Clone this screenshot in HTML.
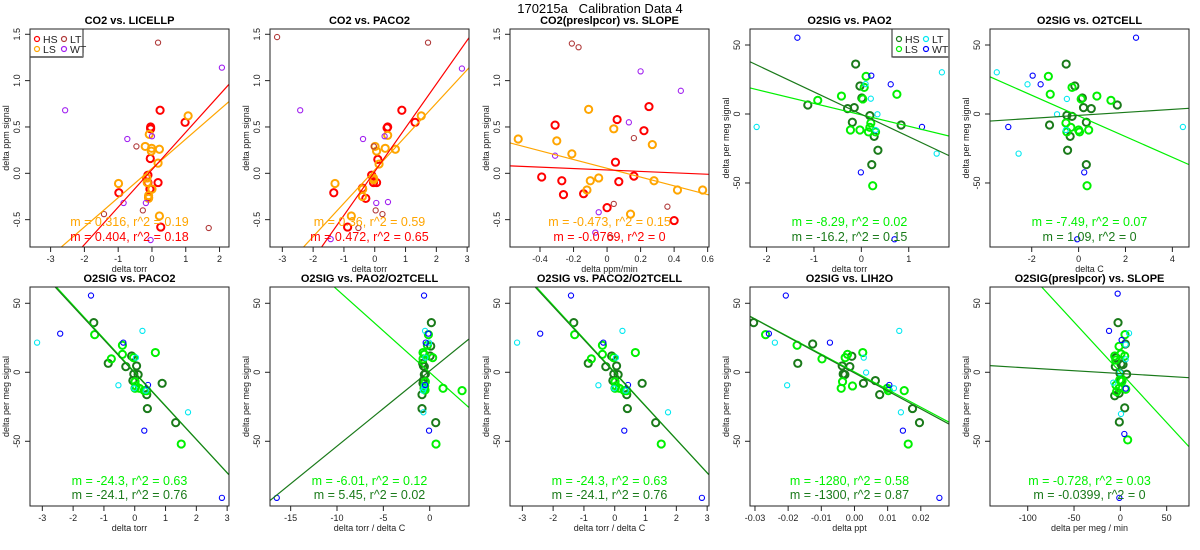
<!DOCTYPE html>
<html><head><meta charset="utf-8"><style>
html,body{margin:0;padding:0;background:#fff;}
svg{display:block;font-family:"Liberation Sans",Arial,sans-serif;}
</style></head><body>
<svg id="chart" width="1200" height="550" viewBox="0 0 1200 550">
<text x="600" y="13" text-anchor="middle" font-size="13">170215a&#160;&#160;&#160;Calibration Data 4</text>
</svg>
<script>
// ---- data arrays (data coordinates) ----
const p1_hs=[[0.24,0.68],[-0.04,0.50],[-0.04,0.48],[0.98,0.55],[-0.05,0.16],[-0.12,-0.02],[-0.16,-0.05],[-0.12,-0.10],[0.18,-0.10],[-0.06,-0.17],[-0.98,-0.21],[-0.10,-0.26],[0.26,-0.58]];
const p1_ls=[[1.07,0.62],[-0.08,0.42],[-0.2,0.29],[-0.01,0.27],[-0.02,0.24],[0.22,0.26],[0.18,0.11],[-0.15,-0.05],[-0.14,-0.10],[-0.99,-0.11],[0.0,-0.17],[-0.1,-0.24],[-0.1,-0.27],[0.22,-0.46]];
const p1_lt=[[0.18,1.41],[-0.46,0.29],[-1.42,-0.44],[-0.27,-0.40],[1.68,-0.59]];
const p1_wt=[[2.07,1.14],[-2.57,0.68],[-0.73,0.37],[0.0,0.40],[-0.84,-0.32],[-0.18,-0.32],[-0.04,-0.72]];
const p2_hs=[[0.88,0.68],[0.42,0.50],[0.40,0.49],[1.31,0.55],[0.10,0.15],[-0.1,-0.02],[-0.04,-0.10],[0.06,-0.10],[-0.4,-0.16],[-1.33,-0.21],[-0.29,-0.27],[-0.88,-0.58]];
const p2_ls=[[1.51,0.62],[0.42,0.41],[0.01,0.29],[0.34,0.27],[0.06,0.24],[0.67,0.26],[0.14,0.10],[-0.04,-0.05],[-1.29,-0.11],[-0.39,-0.17],[-0.4,-0.25],[-0.76,-0.46],[-0.04,-0.07]];
const p2_lt=[[-3.17,1.47],[1.73,1.41],[-0.03,0.29],[0.03,-0.40],[0.25,-0.44],[-0.53,-0.59]];
const p2_wt=[[2.83,1.13],[-2.42,0.68],[-0.38,0.37],[0.32,0.40],[0.43,-0.31],[0.05,-0.32],[-1.43,-0.71]];
const p3_hs=[[-0.31,0.52],[0.06,0.58],[0.25,0.72],[0.22,0.46],[0.05,0.12],[-0.39,-0.04],[-0.27,-0.08],[0.16,-0.03],[0.07,-0.09],[-0.26,-0.23],[-0.14,-0.22],[0.0,-0.37],[0.40,-0.51]];
const p3_ls=[[-0.53,0.37],[-0.30,0.35],[-0.11,0.69],[0.04,0.48],[-0.21,0.21],[0.27,0.31],[-0.1,-0.08],[-0.05,-0.05],[-0.12,-0.18],[0.28,-0.08],[0.42,-0.18],[0.57,-0.18],[0.14,-0.44]];
const p3_lt=[[-0.21,1.40],[-0.17,1.36],[0.16,0.38],[0.04,-0.33],[0.36,-0.36],[0.02,-0.69]];
const p3_wt=[[0.2,1.10],[0.44,0.89],[0.13,0.55],[-0.31,0.19],[-0.05,-0.42],[-0.07,-0.64]];
const p4_hs=[[-0.12,36.2],[-0.03,20.3],[0.01,11.6],[-1.13,6.5],[-0.29,3.9],[-0.15,4.6],[0.18,-1.2],[-0.19,-6],[0.84,-8],[0.27,-16.2],[0.35,-26.3],[0.22,-36.7]];
const p4_ls=[[0.1,27.3],[0.06,19.3],[0.03,10.9],[-0.42,13],[-0.92,9.9],[0.75,14.3],[0.2,-6.5],[0.18,-9.7],[0.15,-13],[0.3,-13],[-0.03,-11.6],[-0.23,-11.6],[0.24,-52]];
const p4_lt=[[0.09,21.7],[1.7,30.2],[-2.21,-9.4],[0.2,11.1],[0.34,-0.2],[1.59,-28.7],[0.3,-11.6]];
const p4_wt=[[-1.35,55.3],[0.21,27.8],[0.62,21.5],[1.28,-9.4],[-0.01,-42.3],[0.7,-90.8]];
const p5_hs=[[-0.53,36.2],[-0.16,20.3],[0.16,11.6],[1.65,6.5],[0.21,4.6],[0.54,3.9],[-0.5,-1],[-0.28,-1.7],[0.33,-6],[-1.24,-8],[-0.36,-16.2],[-0.47,-26.3],[0.33,-36.7]];
const p5_ls=[[-1.29,27.3],[-0.28,19.3],[0.11,10.9],[-1.21,14.3],[0.78,13],[1.38,9.9],[-0.54,-6.5],[-0.33,-9.7],[0,-11.6],[0.43,-11.6],[0.04,-13],[-0.5,-13],[0.36,-52]];
const p5_lt=[[-3.49,30.2],[-2.18,21.5],[-0.5,10.9],[-0.92,-0.2],[-0.54,-11.6],[-2.56,-28.7],[4.45,-9.4]];
const p5_wt=[[2.45,55.3],[-1.96,27.8],[-1.62,21.5],[-3.0,-9.4],[0.24,-42.3],[-0.06,-90.8]];
const p6_hs=[[-1.33,36],[-0.1,11.8],[-0.86,6.5],[-0.29,4.1],[0.06,4.6],[0.11,-1.7],[-0.06,-6],[0.89,-8],[0.39,-16.2],[0.41,-26.3],[1.33,-36.5],[-0.03,-1.2]];
const p6_ls=[[-1.3,27.3],[-0.4,19.6],[0.67,14.3],[-0.4,13],[-0.04,10.6],[-0.76,9.7],[0.01,-6.8],[0.04,-9.9],[0.01,-11.6],[0.15,-11.6],[0.31,-13.3],[0.39,-13.3],[1.51,-52]];
const p6_lt=[[-3.17,21.5],[0.25,30],[0.04,10.6],[-0.53,-9.4],[-0.02,-11.6],[1.73,-29],[0.36,-13.3]];
const p6_wt=[[-1.42,55.6],[-2.42,28],[-0.37,21.5],[0.43,-9.2],[0.31,-42.3],[2.83,-91]];
const p7_hs=[[0.18,36],[0.04,11.8],[-0.76,6.5],[-0.58,4.1],[-0.68,4.6],[-0.58,-1.7],[-0.68,-6],[-0.72,-8],[-0.83,-16.2],[-0.83,-26.3],[0.65,-36.5],[-0.47,-1.2],[0.11,19]];
const p7_ls=[[-0.14,27.3],[-0.25,19.6],[-0.72,14.3],[0.32,10.6],[-0.58,13],[-0.72,9.7],[-0.47,-6.8],[-0.54,-9.9],[-0.61,-11.6],[1.44,-11.6],[3.49,-13.3],[-0.5,-12.8],[0.68,-52]];
const p7_lt=[[-0.5,30],[-0.07,21.5],[-0.47,10.6],[-0.58,-9.4],[-0.61,-11.6],[-0.68,-29],[-0.72,-13.3]];
const p7_wt=[[-0.61,55.6],[-0.14,28],[-0.43,21.5],[-0.5,-9.2],[-0.07,-42.3],[-16.5,-91]];
const p9_hs=[[-0.0304,36],[-0.0126,20.5],[-0.0171,6.5],[-0.0008,11.6],[-0.0014,4.1],[-0.0037,4.6],[-0.0029,-1.7],[-0.0034,-1.2],[0.0063,-6],[0.0027,-8],[0.0076,-16.2],[0.0175,-26.3],[0.0196,-36.5]];
const p9_ls=[[-0.0268,27.3],[-0.0173,19.6],[0.0025,14.3],[-0.0021,13],[-0.0028,10.6],[-0.0098,9.7],[-0.0036,-6.8],[-0.0006,-9.9],[-0.004,-11.6],[0.0099,-11.6],[0.0102,-13.3],[0.015,-13.3],[0.0162,-52]];
const p9_lt=[[-0.024,21.5],[0.0135,30],[0.0028,10.6],[0.0035,-0.2],[-0.0203,-9.4],[0.0119,-11.6],[0.014,-29]];
const p9_wt=[[-0.0207,55.6],[-0.0258,28],[-0.0074,21.5],[0.0105,-9.2],[0.0146,-42.3],[0.0256,-91]];
const p10_hs=[[-2.5,36],[5.4,20.5],[-5.4,4.1],[2.9,5.6],[0.7,6],[-4.7,10.6],[-0.4,-0.7],[6.8,-1.4],[0.4,-5.6],[-1.4,-15.2],[4.7,-25.8],[-1.1,-36],[-6.1,-17]];
const p10_ls=[[5,27.3],[-1.4,18.8],[4.7,11.8],[0.7,13.3],[-6.1,11.8],[-5,8.9],[-0.7,-5.6],[1.8,-6.5],[-4.7,-9.4],[-1.4,-11.6],[5.8,-12.3],[-4,-14],[7.9,-49]];
const p10_lt=[[9.4,28.3],[5.8,20],[5.8,9.4],[-7.6,-7.5],[0.7,-30.2],[-0.4,-0.2]];
const p10_wt=[[-2.9,57],[-12.2,30],[1.4,23.4],[5.8,-11.8],[4.3,-44.7],[-1.1,-91]];
// fit lines [slope, intercept] : first = LS (top text), second = HS
const fits=[[[0.316,0.053],[0.404,0.039]],[[0.36,0.037],[0.472,0.019]],[[-0.473,0.054],[-0.0769,0.036]],
[[-8.29,-0.6],[-16.2,-0.2]],[[-7.49,-1.4],[1.09,-1.0]],
[[-24.3,0],[-24.1,-0.5]],[[-6.01,-0.1],[5.45,1.0]],[[-24.3,0],[-24.1,-0.5]],[[-1280,0.3],[-1300,-0.5]],[[-0.728,0],[-0.0405,-0.9]]];
const statText=[["m = 0.316, r^2 = 0.19","m = 0.404, r^2 = 0.18"],["m = 0.36, r^2 = 0.59","m = 0.472, r^2 = 0.65"],["m = -0.473, r^2 = 0.15","m = -0.0769, r^2 = 0"],
["m = -8.29, r^2 = 0.02","m = -16.2, r^2 = 0.15"],["m = -7.49, r^2 = 0.07","m = 1.09, r^2 = 0"],
["m = -24.3, r^2 = 0.63","m = -24.1, r^2 = 0.76"],["m = -6.01, r^2 = 0.12","m = 5.45, r^2 = 0.02"],["m = -24.3, r^2 = 0.63","m = -24.1, r^2 = 0.76"],
["m = -1280, r^2 = 0.58","m = -1300, r^2 = 0.87"],["m = -0.728, r^2 = 0.03","m = -0.0399, r^2 = 0"]];
const titles=["CO2 vs. LICELLP","CO2 vs. PACO2","CO2(preslpcor) vs. SLOPE","O2SIG vs. PAO2","O2SIG vs. O2TCELL","O2SIG vs. PACO2","O2SIG vs. PAO2/O2TCELL","O2SIG vs. PACO2/O2TCELL","O2SIG vs. LIH2O","O2SIG(preslpcor) vs. SLOPE"];
const xlabels=["delta torr","delta torr","delta ppm/min","delta torr","delta C","delta torr","delta torr / delta C","delta torr / delta C","delta ppt","delta per meg / min"];
const xdomains=[[-3.61,2.28],[-3.4,3.06],[-0.579,0.608],[-2.35,1.85],[-3.78,4.71],[-3.4,3.06],[-17.23,4.24],[-3.4,3.06],[-0.0315,0.0285],[-140.7,74.1]];
const xticks=[[-3,-2,-1,0,1,2],[-3,-2,-1,0,1,2,3],[-0.4,-0.2,0,0.2,0.4,0.6],[-2,-1,0,1],[-2,0,2,4],[-3,-2,-1,0,1,2,3],[-15,-10,-5,0],[-3,-2,-1,0,1,2,3],[-0.03,-0.02,-0.01,0,0.01,0.02],[-100,-50,0,50]];
const xtickLabels=[null,null,null,null,null,null,null,null,["-0.03","-0.02","-0.01","0.00","0.01","0.02"],null];
const pointSets=[[p1_hs,p1_ls,p1_lt,p1_wt],[p2_hs,p2_ls,p2_lt,p2_wt],[p3_hs,p3_ls,p3_lt,p3_wt],[p4_hs,p4_ls,p4_lt,p4_wt],[p5_hs,p5_ls,p5_lt,p5_wt],
[p6_hs,p6_ls,p6_lt,p6_wt],[p7_hs,p7_ls,p7_lt,p7_wt],[p6_hs,p6_ls,p6_lt,p6_wt],[p9_hs,p9_ls,p9_lt,p9_wt],[p10_hs,p10_ls,p10_lt,p10_wt]];

const NS="http://www.w3.org/2000/svg";
const svg=document.getElementById('chart');
function mk(tag,attrs,parent){const e=document.createElementNS(NS,tag);for(const k in attrs)e.setAttribute(k,attrs[k]);(parent||svg).appendChild(e);return e;}
const co2Col=["#ff0000","#ffa500","#b03a3a","#a020f0"];
const o2Col=["#1a7a1a","#00f000","#00e8f0","#0000ff"];
const groupNames=["HS","LS","LT","WT"];
for(let i=0;i<10;i++){
  const col=i%5,row=Math.floor(i/5);
  const L=30+240*col,R=229+240*col,T=row?287:29,B=row?506:247;
  const isCO2=(row===0&&col<3);
  const yd=isCO2?[-0.795,1.557]:(row?[-96.9,61.8]:[-96.4,61.6]);
  const yt=isCO2?[-0.5,0,0.5,1,1.5]:[-50,0,50];
  const ytl=isCO2?["-0.5","0.0","0.5","1.0","1.5"]:["-50","0","50"];
  const xd=xdomains[i];
  const sx=v=>L+(v-xd[0])/(xd[1]-xd[0])*(R-L);
  const sy=v=>B-(v-yd[0])/(yd[1]-yd[0])*(B-T);
  const cols=isCO2?co2Col:o2Col;
  const g=mk('g',{});
  
  
  const cp=mk('clipPath',{id:'cp'+i},g);mk('rect',{x:L,y:T,width:R-L,height:B-T},cp);
  const t=mk('text',{x:(L+R)/2,y:T-5,'text-anchor':'middle','font-size':'11','font-weight':'bold'},g);t.textContent=titles[i];
  
  
  const pg=mk('g',{'clip-path':'url(#cp'+i+')'},g);
  pointSets[i].forEach((set,gi)=>{
    set.forEach(p=>{
      const c=mk('circle',{cx:sx(p[0]),cy:sy(p[1]),r:gi<2?3.6:2.6,fill:'none',stroke:cols[gi],'stroke-width':gi<2?2:1.1},pg);
      
      
    });
  });
  fits[i].forEach((f,fi)=>{
    const ln=mk('line',{x1:sx(xd[0]),y1:sy(f[0]*xd[0]+f[1]),x2:sx(xd[1]),y2:sy(f[0]*xd[1]+f[1]),stroke:fi===0?cols[1]:cols[0],'stroke-width':1.2},pg);
    
    
  });
  statText[i].forEach((s,si)=>{
    const tx=mk('text',{x:(L+R)/2,y:row?(si?499:485):(si?241:226),'text-anchor':'middle','font-size':'12.5',fill:si===0?cols[1]:cols[0]},g);tx.textContent=s;
    
    
  });
  const bx=mk('rect',{x:L,y:T,width:R-L,height:B-T,fill:'none',stroke:'#222','stroke-width':1},g);
  
  
  xticks[i].forEach((v,k)=>{
    mk('line',{x1:sx(v),x2:sx(v),y1:B,y2:B+5,stroke:'#222'},g);
    const tl=mk('text',{x:sx(v),y:B+15,'text-anchor':'middle','font-size':'9',fill:'#222'},g);
    tl.textContent=xtickLabels[i]?xtickLabels[i][k]:String(v);
    
    
  });
  const xl=mk('text',{x:(L+R)/2,y:B+25,'text-anchor':'middle','font-size':'9',fill:'#222'},g);xl.textContent=xlabels[i];
  
  
  yt.forEach((v,k)=>{
    mk('line',{x1:L-5,x2:L,y1:sy(v),y2:sy(v),stroke:'#222'},g);
    const tl=mk('text',{x:L-10,y:sy(v),'text-anchor':'middle','font-size':'9',fill:'#222',transform:`rotate(-90 ${L-10} ${sy(v)})`},g);
    tl.textContent=ytl[k];
    
    
  });
  const yx=L-21,yy=(T+B)/2;
  const yl=mk('text',{x:yx,y:yy,'text-anchor':'middle','font-size':'9',fill:'#222',transform:`rotate(-90 ${yx} ${yy})`},g);
  yl.textContent=isCO2?"delta ppm signal":"delta per meg signal";
  
  
  if(i===0||i===3){
    const lx=i===0?L:R-57,lw=i===0?53:57;
    const lg=mk('g',{},g);
    
    
    mk('rect',{x:lx,y:T,width:lw,height:28,fill:'#fff',stroke:'#222'},lg);
    mk('line',{x1:lx+1,x2:lx+lw,y1:T+28,y2:T+28,stroke:'#777','stroke-width':2},lg);
    groupNames.forEach((n,gi)=>{
      const ex=lx+7+(gi>=2?27:0),ey=T+10+(gi%2?10:0);
      const ent=mk('g',{},lg);
      
      
      mk('circle',{cx:ex,cy:ey,r:2.5,fill:'none',stroke:cols[gi],'stroke-width':1.2},ent);
      const lt=mk('text',{x:ex+6,y:ey+4,'font-size':'10.5',fill:'#222'},ent);lt.textContent=n;
    });
  }
}
</script>
</body></html>
